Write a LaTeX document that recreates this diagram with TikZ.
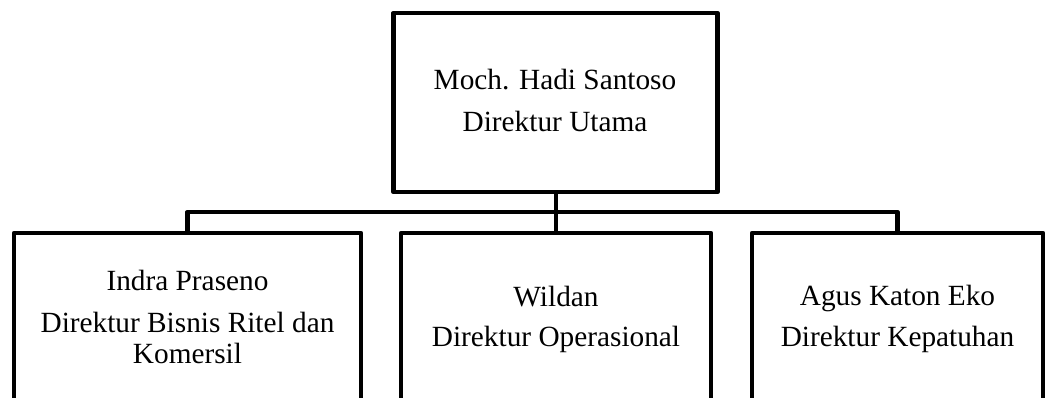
\documentclass[tikz,border=0pt]{standalone}
\usepackage{fontspec}
\setmainfont{Liberation Serif}
\begin{document}
\begin{tikzpicture}[x=1pt,y=-1pt,
  box/.style={draw, line width=4.8pt, line join=round, rectangle, inner sep=0pt, outer sep=0pt},
  conn/.style={line width=4.8pt, line join=round},
  lbl/.style={align=center, font=\fontsize{29.3}{30.5}\selectfont, inner sep=0pt, anchor=base}]
\useasboundingbox (0,0) rectangle (1052,398);
\clip (0,0) rectangle (1052,398);
\node[box, minimum width=324pt, minimum height=179pt] (top) at (555.5,102.5) {};
\node[box, minimum width=347pt, minimum height=260pt] (left) at (187.5,363) {};
\node[box, minimum width=310pt, minimum height=260pt] (mid) at (556,363) {};
\node[box, minimum width=291pt, minimum height=260pt] (right) at (897.5,363) {};
\coordinate (bus) at (556,212);
\draw[conn] (top.south -| mid.north) -- (mid.north);
\draw[conn] (left.north) |- (bus) -| (right.north);
\node[lbl] (ttop) at (555,132) {Moch. Hadi Santoso\\[11.5pt]Direktur Utama};
\node[lbl] (tleft) at (187.5,363) {Indra Praseno\\[12pt]Direktur Bisnis Ritel dan\\Komersil};
\node[lbl] (tmid) at (556,346.7) {Wildan\\[9.5pt]Direktur Operasional};
\node[lbl] (tright) at (897.5,346.7) {Agus Katon Eko\\[11pt]Direktur Kepatuhan};
\end{tikzpicture}
\end{document}
